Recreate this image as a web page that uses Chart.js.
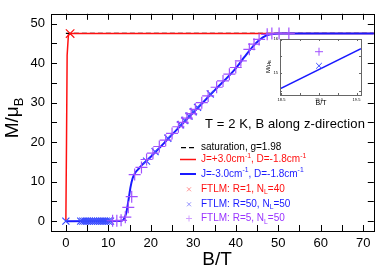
<!DOCTYPE html>
<html>
<head>
<script src="https://cdn.jsdelivr.net/npm/chart.js"></script>
<style>
body{margin:0;background:#fff;}
#wrap{position:relative;width:381px;height:272px;}
#main{position:absolute;left:0;top:0;}
#inset{position:absolute;left:262px;top:34px;}
</style>
</head>
<body>
<div id="wrap">
<canvas id="main" width="381" height="272"></canvas>
<canvas id="inset" width="104" height="74"></canvas>
</div>
<script>
// ---------------- DATA ----------------
const satB = [0, 73];
const satM = [47.52, 47.52];

const redB = [0, 0.15, 0.3, 0.6, 1.5, 73];
const redM = [0, 20, 42, 47.2, 47.52, 47.52];

const blueB = [0, 13, 13.6, 14.2, 14.7, 15.2, 15.7, 16.3, 17, 18, 19, 20, 25, 30, 35, 40, 42, 44, 45.5, 47, 48.5, 50, 73];
const blueM = [0, 0.05, 0.4, 2, 5, 8.5, 10.8, 12.2, 13.1, 14.3, 15.3, 16.3, 21.9, 27.5, 33.1, 38.7, 41.5, 44.2, 45.8, 46.9, 47.4, 47.52, 47.52];

const r1B = [1];
const r1M = [47.5];

const r50B = [0, 3.5, 4, 4.5, 5, 5.5, 6, 6.5, 7, 7.5, 8, 8.5, 9, 9.5, 10, 10.5, 19, 21, 24, 27, 28, 29, 30, 31, 34];
const r50M = [0, 0, 0, 0, 0, 0, 0, 0, 0, 0, 0, 0, 0, 0, 0, 0, 15.2, 17.6, 21.0, 24.4, 25.5, 26.6, 27.7, 28.8, 32.2];

const r5B = [11, 12, 13, 14, 14.7, 15.5, 16.2, 17.8, 19, 20.5, 22, 23.5, 25, 26.5, 27.5, 28.5, 29.5, 30.5, 32, 33.5, 35.5, 37, 38.5, 40, 41.2, 43.2, 44.3, 45.5, 47.4, 48.5, 50.2, 52.5];
const r5M = [0.1, 0.1, 0.2, 1.0, 3.5, 6.2, 11.8, 13.6, 15.6, 17.2, 18.9, 20.5, 22.2, 23.9, 25.0, 26.1, 27.2, 28.3, 30.0, 31.7, 33.9, 35.5, 37.2, 38.9, 40.6, 43.5, 44.8, 46.0, 47.3, 47.5, 47.52, 47.52];

// inset
const inLineB = [18.48, 19.56];
const inLineM = [14.55, 15.72];
const inR50B = [19.0];
const inR50M = [15.22];
const inR5B = [19.0];
const inR5M = [15.63];

const RED = "#ff1010", BLUE = "#1a1aff", PURPLE = "#a050ff";
const FONT = "'Liberation Sans', Arial, sans-serif";

function pts(xs, ys){ return xs.map((x,i)=>({x:x, y:ys[i]})); }

// ---------------- FRAME + INSIDE TICKS ----------------
function frameTicks(xStep, yStep, len, color){
    return {
        id:"frameTicks",
        afterDraw(chart){
            const ctx = chart.ctx, a = chart.chartArea;
            const xs = chart.scales.x, ys = chart.scales.y;
            ctx.save();
            ctx.strokeStyle = color;
            ctx.lineWidth = 1;
            ctx.beginPath();
            let n0 = Math.ceil(xs.min/xStep - 1e-9), n1 = Math.floor(xs.max/xStep + 1e-9);
            for(let n=n0;n<=n1;n++){
                let px = Math.round(xs.getPixelForValue(n*xStep)) + 0.5;
                ctx.moveTo(px, a.bottom); ctx.lineTo(px, a.bottom-len);
                ctx.moveTo(px, a.top); ctx.lineTo(px, a.top+len);
            }
            n0 = Math.ceil(ys.min/yStep - 1e-9); n1 = Math.floor(ys.max/yStep + 1e-9);
            for(let n=n0;n<=n1;n++){
                let py = Math.round(ys.getPixelForValue(n*yStep)) + 0.5;
                ctx.moveTo(a.left, py); ctx.lineTo(a.left+len, py);
                ctx.moveTo(a.right, py); ctx.lineTo(a.right-len, py);
            }
            ctx.stroke();
            ctx.strokeRect(Math.round(a.left)+0.5, Math.round(a.top)+0.5, Math.round(a.right-a.left), Math.round(a.bottom-a.top));
            ctx.restore();
        }
    };
}

// text with super/subscripts
function rich(ctx, x, y, parts, size, color){
    ctx.fillStyle = color;
    ctx.textBaseline = "middle";
    ctx.textAlign = "left";
    parts.forEach(p=>{
        let t = p[0], mode = p[1] || "";
        let s = mode ? size*0.68 : size;
        let dy = mode==="sup" ? -size*0.35 : (mode==="sub" ? size*0.32 : 0);
        ctx.font = s + "px " + FONT;
        ctx.fillText(t, x, y+dy);
        x += ctx.measureText(t).width;
    });
    return x;
}

// ---------------- TEXT / LEGEND ----------------
const mainText = {
    id:"mainText",
    afterDraw(chart){
        const ctx = chart.ctx;
        ctx.save();
        // y title
        ctx.translate(13, 118);
        ctx.rotate(-Math.PI/2);
        ctx.font = "19px " + FONT;
        let w = ctx.measureText("M/\u03bc").width;
        ctx.font = "13px " + FONT;
        w += ctx.measureText("B").width;
        rich(ctx, -w/2, 0, [["M/\u03bc"],["B","sub"]], 19, "#000");
        ctx.restore();

        ctx.save();
        ctx.font = "19px " + FONT;
        ctx.fillStyle = "#000";
        ctx.textAlign = "center";
        ctx.textBaseline = "middle";
        ctx.fillText("B/T", 217, 260);

        ctx.font = "13px " + FONT;
        ctx.textAlign = "left";
        ctx.letterSpacing = "0.1px";
        ctx.fillText("T = 2 K, B along z-direction", 205, 124);
        ctx.letterSpacing = "0px";

        // legend
        const rows = [147.7, 159.5, 174, 189.3, 204.3, 218.5];
        const tx = 201;
        ctx.lineWidth = 1.3;
        ctx.strokeStyle = "#000";
        ctx.setLineDash([5,3]);
        ctx.beginPath(); ctx.moveTo(181, rows[0]); ctx.lineTo(196, rows[0]); ctx.stroke();
        ctx.setLineDash([]);
        ctx.strokeStyle = RED; ctx.lineWidth = 1.5;
        ctx.beginPath(); ctx.moveTo(180, rows[1]); ctx.lineTo(196, rows[1]); ctx.stroke();
        ctx.strokeStyle = BLUE; ctx.lineWidth = 2;
        ctx.beginPath(); ctx.moveTo(180, rows[2]); ctx.lineTo(196, rows[2]); ctx.stroke();
        ctx.lineWidth = 1;
        ctx.strokeStyle = "#ff9090";
        ctx.beginPath(); ctx.moveTo(187, rows[3]-2); ctx.lineTo(191, rows[3]+2); ctx.moveTo(191, rows[3]-2); ctx.lineTo(187, rows[3]+2); ctx.stroke();
        ctx.strokeStyle = "#9090ff";
        ctx.beginPath(); ctx.moveTo(187, rows[4]-2); ctx.lineTo(191, rows[4]+2); ctx.moveTo(191, rows[4]-2); ctx.lineTo(187, rows[4]+2); ctx.stroke();
        ctx.strokeStyle = "#d0a0ff";
        ctx.beginPath(); ctx.moveTo(186, rows[5]); ctx.lineTo(192, rows[5]); ctx.moveTo(189, rows[5]-3); ctx.lineTo(189, rows[5]+3); ctx.stroke();

        const fs = 10;
        rich(ctx, tx, rows[0], [["saturation, g=1.98"]], fs, "#000");
        rich(ctx, tx, rows[1], [["J=+3.0cm"],["-1","sup"],[", D=-1.8cm"],["-1","sup"]], fs, RED);
        rich(ctx, tx, rows[2], [["J=-3.0cm"],["-1","sup"],[", D=-1.8cm"],["-1","sup"]], fs, BLUE);
        rich(ctx, tx, rows[3], [["FTLM: R=1, N"],["L","sub"],["=40"]], fs, RED);
        rich(ctx, tx, rows[4], [["FTLM: R=50, N"],["L","sub"],["=50"]], fs, BLUE);
        rich(ctx, tx, rows[5], [["FTLM: R=5, N"],["L","sub"],["=50"]], fs, "#9933ff");
        ctx.restore();
    }
};

// ---------------- MAIN CHART ----------------
new Chart(document.getElementById("main"), {
    type:"scatter",
    data:{
        datasets:[
            {data:pts(satB,satM), showLine:true, borderColor:"#000", borderWidth:1.3, borderDash:[5,3], pointRadius:0, order:6},
            {data:pts(redB,redM), showLine:true, borderColor:RED, borderWidth:1.5, pointRadius:0, order:5},
            {data:pts(blueB,blueM), showLine:true, borderColor:BLUE, borderWidth:2, pointRadius:0, cubicInterpolationMode:"monotone", order:4},
            {data:pts(r1B,r1M), pointStyle:"crossRot", pointRadius:6, borderColor:RED, borderWidth:1.2, order:3},
            {data:pts(r50B,r50M), pointStyle:"crossRot", pointRadius:5, borderColor:"#3a4cff", borderWidth:1.2, order:2},
            {data:pts(r5B,r5M), pointStyle:"cross", pointRadius:6, borderColor:PURPLE, borderWidth:1.2, order:1}
        ]
    },
    options:{
        responsive:false,
        animation:false,
        layout:{padding:{top:3, right:6}},
        plugins:{legend:{display:false}, tooltip:{enabled:false}},
        scales:{
            x:{
                type:"linear", min:-3.5, max:72.5,
                grid:{display:false, drawTicks:false}, border:{display:false},
                ticks:{stepSize:10, includeBounds:false, padding:5, color:"#000", font:{size:13, family:FONT}},
                afterFit(s){ s.height = 41; }
            },
            y:{
                type:"linear", min:-2.5, max:52.5,
                grid:{display:false, drawTicks:false}, border:{display:false},
                ticks:{stepSize:10, includeBounds:false, padding:6, color:"#000", font:{size:13, family:FONT}},
                afterFit(s){ s.width = 51; }
            }
        }
    },
    plugins:[frameTicks(5, 5, 6, "#000"), mainText]
});

// ---------------- INSET ----------------
const insetText = {
    id:"insetText",
    afterDraw(chart){
        const ctx = chart.ctx;
        ctx.save();
        ctx.translate(6, 31);
        ctx.rotate(-Math.PI/2);
        rich(ctx, -8, 0, [["M/\u03bc"],["B","sub"]], 6, "#000");
        ctx.restore();
        ctx.save();
        ctx.font = "7px " + FONT;
        ctx.fillStyle = "#000";
        ctx.textAlign = "center";
        ctx.textBaseline = "middle";
        ctx.fillText("B/T", 59, 69);
        ctx.restore();
    }
};

new Chart(document.getElementById("inset"), {
    type:"scatter",
    data:{
        datasets:[
            {data:pts(inLineB,inLineM), showLine:true, borderColor:BLUE, borderWidth:1.5, pointRadius:0, order:3},
            {data:pts(inR50B,inR50M), pointStyle:"crossRot", pointRadius:4, borderColor:"#3a4cff", borderWidth:1, order:2},
            {data:pts(inR5B,inR5M), pointStyle:"cross", pointRadius:4, borderColor:PURPLE, borderWidth:1, order:1}
        ]
    },
    options:{
        responsive:false,
        animation:false,
        layout:{padding:{top:4, right:4}},
        plugins:{legend:{display:false}, tooltip:{enabled:false}},
        scales:{
            x:{
                type:"linear", min:18.48, max:19.56,
                grid:{display:false, drawTicks:false}, border:{display:false},
                afterBuildTicks(s){ s.ticks = [{value:18.5},{value:19.0},{value:19.5}]; },
                ticks:{padding:2, color:"#000", font:{size:4, family:FONT}, callback:v=>v.toFixed(1)},
                afterFit(s){ s.height = 13; }
            },
            y:{
                type:"linear", min:14.37, max:16.0,
                grid:{display:false, drawTicks:false}, border:{display:false},
                afterBuildTicks(s){ s.ticks = [{value:15},{value:16}]; },
                ticks:{padding:2, color:"#000", font:{size:4, family:FONT}},
                afterFit(s){ s.width = 18; }
            }
        }
    },
    plugins:[frameTicks(0.25, 0.5, 2, "#666"), insetText]
});
</script>
</body>
</html>
